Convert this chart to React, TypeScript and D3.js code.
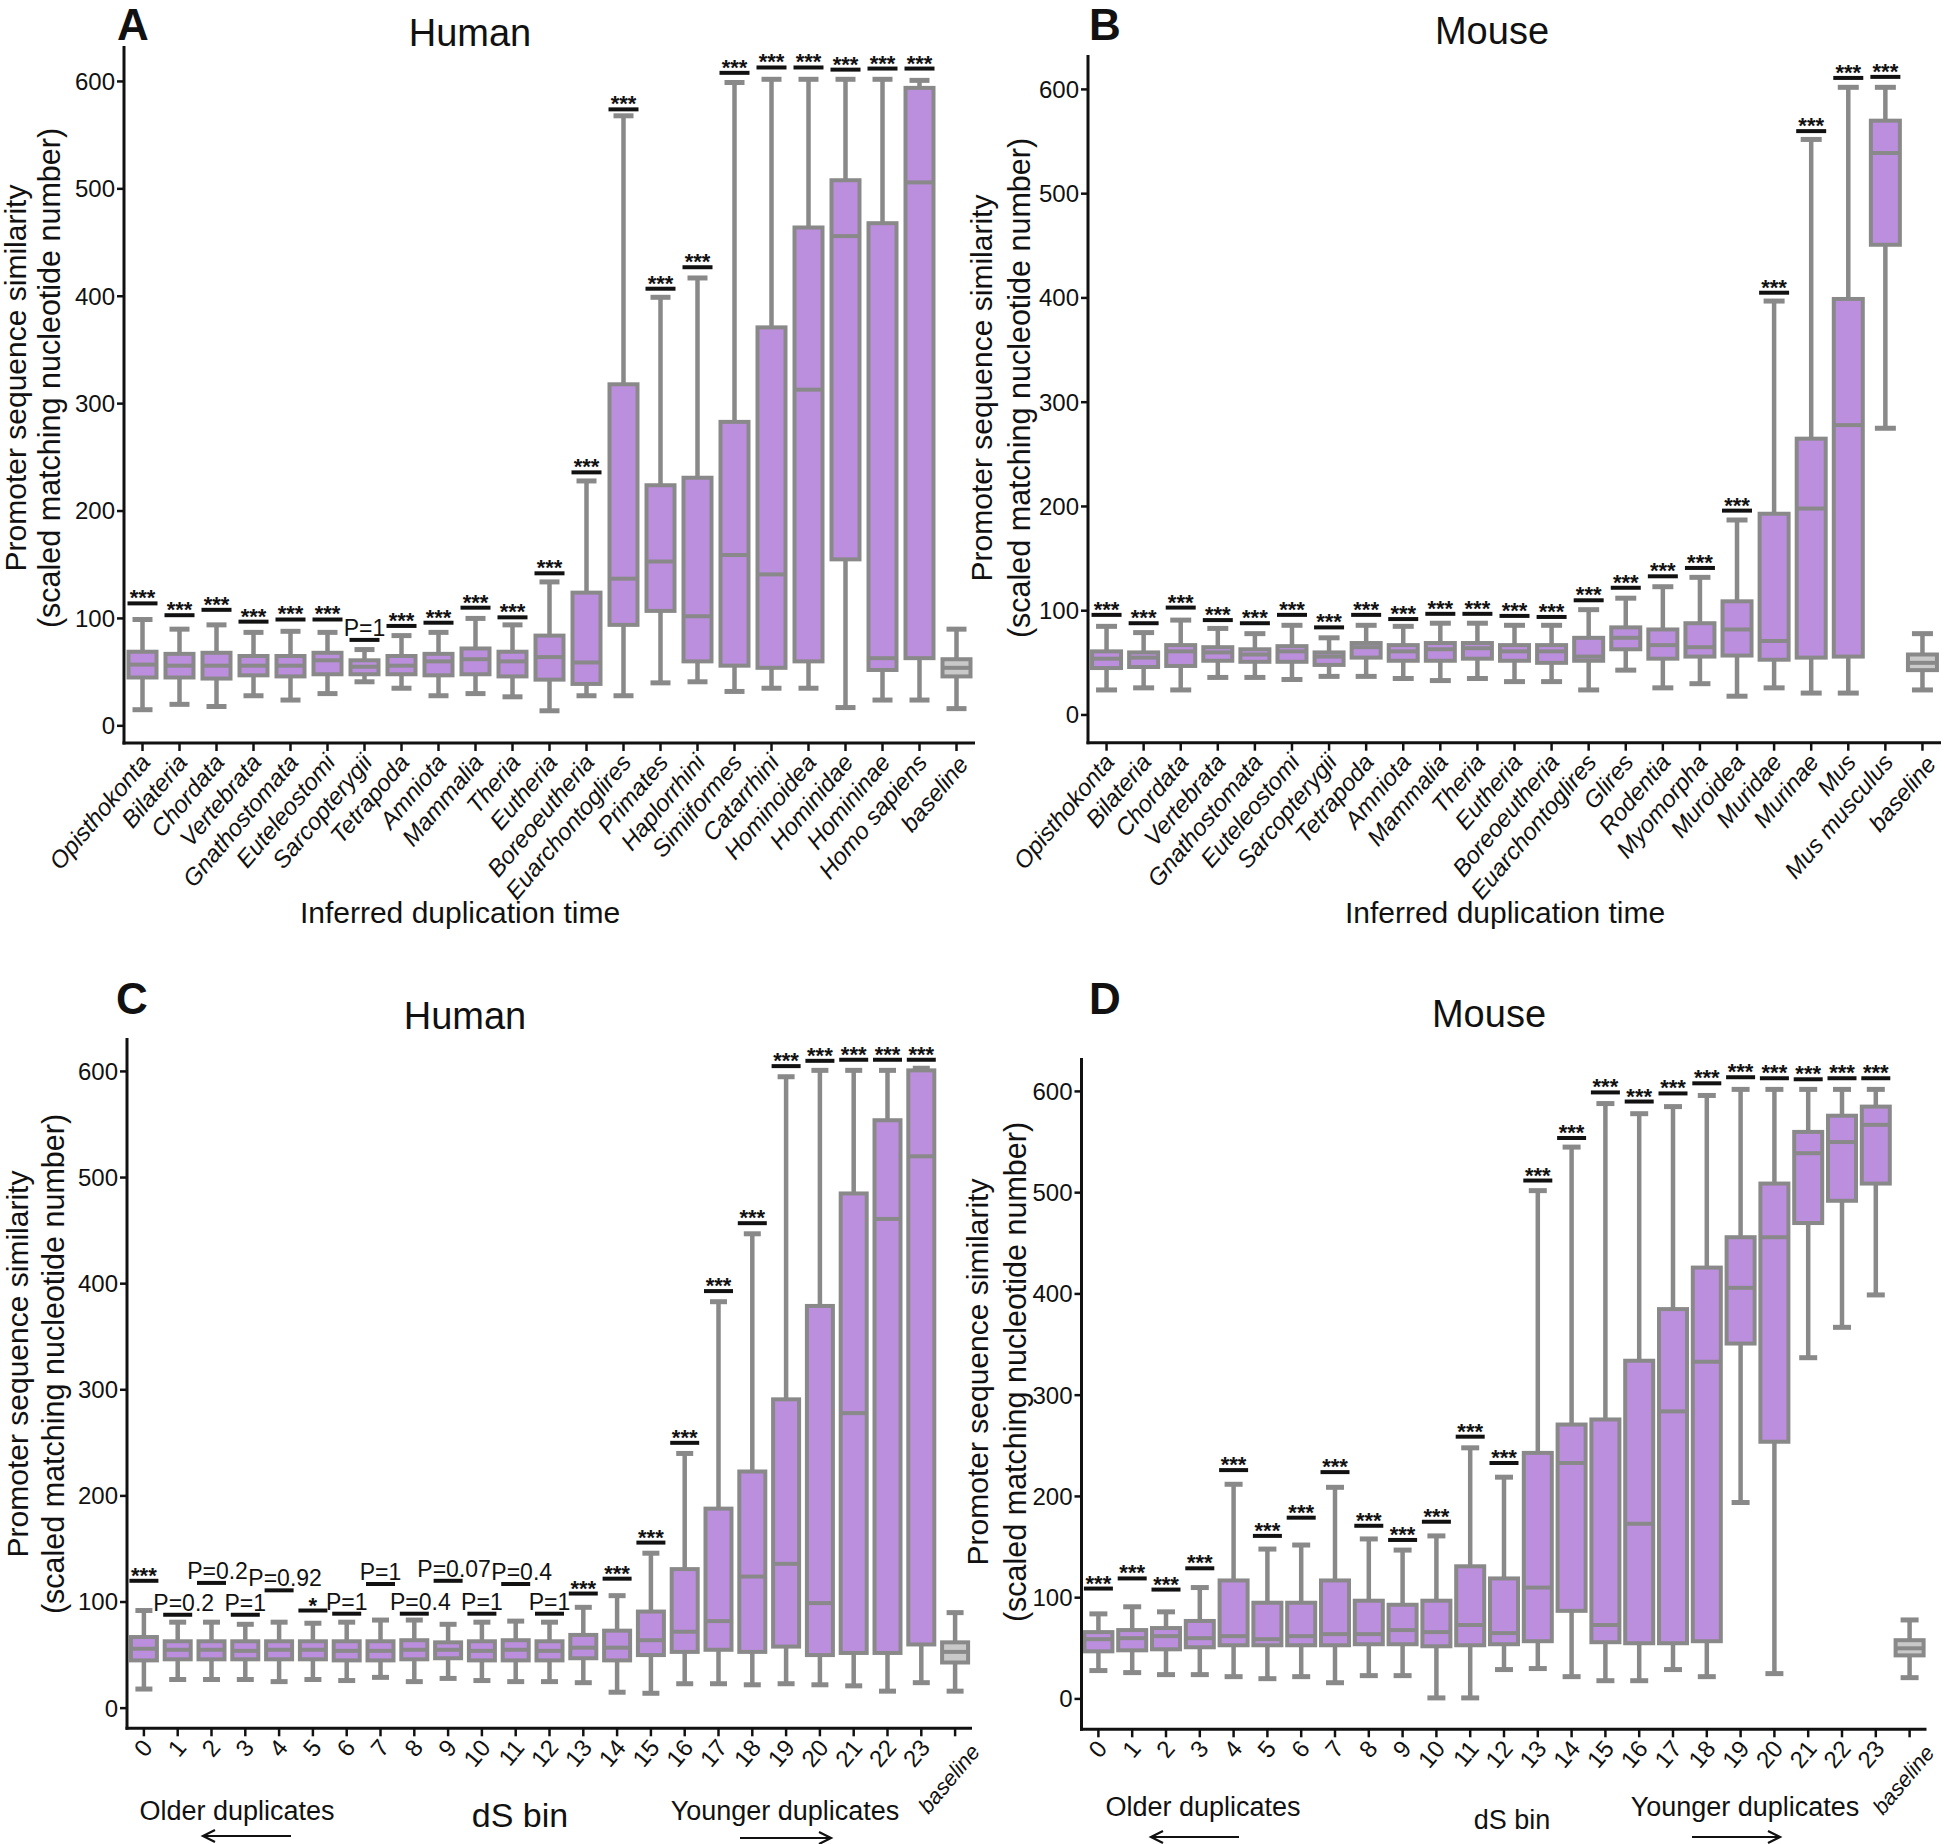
import React from 'react';
import * as d3 from 'd3';

// ---------- Panel A: Human, inferred duplication time ----------
const humanTaxa = ['Opisthokonta', 'Bilateria', 'Chordata', 'Vertebrata', 'Gnathostomata', 'Euteleostomi', 'Sarcopterygii', 'Tetrapoda', 'Amniota', 'Mammalia', 'Theria', 'Eutheria', 'Boreoeutheria', 'Euarchontoglires', 'Primates', 'Haplorrhini', 'Simiiformes', 'Catarrhini', 'Hominoidea', 'Hominidae', 'Homininae', 'Homo sapiens', 'baseline'];
const humanTaxaLower = [15, 20, 18, 28, 24, 30, 41, 35, 28, 30, 27, 14, 28, 28, 40, 41, 32, 35, 35, 17, 24, 24, 16];
const humanTaxaQ1 = [45, 45, 44, 47, 46, 48, 48, 48, 47, 48, 46, 43, 39, 94, 107, 60, 56, 54, 60, 155, 52, 63, 46];
const humanTaxaMedian = [57, 56, 56, 56, 56, 61, 55, 56, 60, 62, 60, 64, 59, 137, 153, 102, 159, 141, 313, 456, 63, 506, 54];
const humanTaxaQ3 = [69, 67, 68, 65, 65, 68, 61, 65, 67, 72, 69, 84, 124, 318, 224, 231, 283, 371, 464, 508, 468, 594, 62];
const humanTaxaUpper = [99, 90, 94, 87, 88, 87, 71, 84, 87, 100, 94, 134, 228, 568, 399, 417, 599, 602, 602, 602, 602, 601, 90];
const humanTaxaSigAt = [114, 103, 108, 97, 99, 99, 80, 93, 96, 110, 101, 142, 236, 574, 407, 427, 608, 613, 613, 611, 612, 612, null];
const humanTaxaSigText = ['***', '***', '***', '***', '***', '***', 'P=1', '***', '***', '***', '***', '***', '***', '***', '***', '***', '***', '***', '***', '***', '***', '***', ''];

// ---------- Panel B: Mouse, inferred duplication time ----------
const mouseTaxa = ['Opisthokonta', 'Bilateria', 'Chordata', 'Vertebrata', 'Gnathostomata', 'Euteleostomi', 'Sarcopterygii', 'Tetrapoda', 'Amniota', 'Mammalia', 'Theria', 'Eutheria', 'Boreoeutheria', 'Euarchontoglires', 'Glires', 'Rodentia', 'Myomorpha', 'Muroidea', 'Muridae', 'Murinae', 'Mus', 'Mus musculus', 'baseline'];
const mouseTaxaLower = [24, 26, 24, 36, 36, 34, 37, 37, 35, 33, 35, 32, 32, 24, 43, 26, 30, 18, 26, 21, 21, 275, 24];
const mouseTaxaQ1 = [45, 46, 47, 52, 51, 51, 48, 55, 52, 52, 54, 52, 50, 52, 63, 54, 56, 57, 53, 55, 56, 451, 43];
const mouseTaxaMedian = [54, 55, 61, 60, 58, 61, 56, 65, 61, 63, 64, 61, 61, 56, 74, 67, 65, 82, 71, 198, 278, 539, 50];
const mouseTaxaQ3 = [61, 60, 67, 65, 63, 66, 60, 69, 67, 69, 69, 67, 67, 74, 84, 82, 88, 109, 193, 265, 399, 570, 58];
const mouseTaxaUpper = [85, 79, 91, 83, 78, 86, 74, 86, 85, 88, 88, 86, 86, 101, 112, 123, 132, 187, 397, 552, 602, 602, 78];
const mouseTaxaSigAt = [96, 88, 103, 91, 88, 96, 84, 96, 92, 97, 97, 95, 94, 110, 122, 133, 141, 196, 405, 560, 611, 612, null];
const mouseTaxaSigText = ['***', '***', '***', '***', '***', '***', '***', '***', '***', '***', '***', '***', '***', '***', '***', '***', '***', '***', '***', '***', '***', '***', ''];

// ---------- Panel C: Human, dS bins ----------
const humanBins = ['0', '1', '2', '3', '4', '5', '6', '7', '8', '9', '10', '11', '12', '13', '14', '15', '16', '17', '18', '19', '20', '21', '22', '23', 'baseline'];
const humanBinsLower = [18, 27, 27, 27, 25, 27, 26, 29, 25, 28, 26, 25, 25, 24, 15, 14, 23, 23, 22, 23, 22, 21, 16, 24, 16];
const humanBinsQ1 = [45, 46, 46, 46, 46, 46, 45, 45, 46, 47, 45, 45, 45, 47, 45, 50, 53, 55, 53, 58, 50, 52, 52, 60, 43];
const humanBinsMedian = [56, 55, 55, 54, 55, 55, 54, 54, 55, 55, 54, 55, 54, 57, 57, 64, 72, 82, 124, 136, 99, 278, 461, 520, 53];
const humanBinsQ3 = [67, 63, 63, 63, 63, 63, 63, 63, 64, 62, 63, 64, 63, 69, 73, 91, 131, 188, 223, 291, 379, 485, 554, 601, 62];
const humanBinsUpper = [92, 81, 81, 79, 81, 80, 81, 83, 83, 79, 81, 82, 81, 95, 106, 146, 240, 383, 447, 595, 601, 601, 601, 603, 90];
const humanBinsSigAt = [120, 88, 118, 88, 111, 92, 89, 117, 89, 120, 89, 117, 89, 108, 122, 156, 250, 393, 457, 605, 610, 611, 611, 611, null];
const humanBinsSigText = ['***', 'P=0.2', 'P=0.2', 'P=1', 'P=0.92', '*', 'P=1', 'P=1', 'P=0.4', 'P=0.07', 'P=1', 'P=0.4', 'P=1', '***', '***', '***', '***', '***', '***', '***', '***', '***', '***', '***', ''];

// ---------- Panel D: Mouse, dS bins ----------
const mouseBins = ['0', '1', '2', '3', '4', '5', '6', '7', '8', '9', '10', '11', '12', '13', '14', '15', '16', '17', '18', '19', '20', '21', '22', '23', 'baseline'];
const mouseBinsLower = [28, 26, 24, 24, 22, 20, 22, 16, 23, 23, 1, 1, 29, 30, 22, 18, 18, 29, 22, 194, 25, 337, 367, 399, 21];
const mouseBinsQ1 = [47, 48, 49, 51, 53, 53, 53, 53, 54, 54, 52, 53, 54, 57, 87, 56, 55, 55, 57, 351, 254, 470, 492, 509, 43];
const mouseBinsMedian = [59, 60, 62, 60, 62, 59, 62, 64, 64, 68, 66, 73, 65, 110, 233, 73, 173, 284, 333, 406, 456, 539, 550, 567, 50];
const mouseBinsQ3 = [66, 68, 70, 77, 117, 95, 95, 117, 97, 93, 97, 131, 119, 243, 271, 276, 334, 385, 426, 456, 509, 560, 576, 585, 58];
const mouseBinsUpper = [84, 91, 86, 110, 212, 148, 152, 209, 158, 147, 161, 248, 219, 502, 545, 588, 578, 585, 596, 602, 602, 602, 602, 602, 78];
const mouseBinsSigAt = [109, 119, 108, 129, 226, 161, 179, 224, 171, 157, 175, 259, 233, 512, 554, 599, 590, 598, 608, 614, 613, 612, 613, 613, null];
const mouseBinsSigText = ['***', '***', '***', '***', '***', '***', '***', '***', '***', '***', '***', '***', '***', '***', '***', '***', '***', '***', '***', '***', '***', '***', '***', '***', ''];

const yTickValues = [0, 100, 200, 300, 400, 500, 600];

const FONT = 'Liberation Sans, Arial, Helvetica, sans-serif';
const GRAY = '#898989';
const PURPLE = '#bb8fdd';
const BASE_FILL = '#c9c9c9';
const INK = '#111111';

type Panel = {
  cats: string[]; lower: number[]; q1: number[]; median: number[]; q3: number[]; upper: number[];
  sigAt: (number | null)[]; sigText: string[];
  x0: number; x1: number; yTop: number; yBottom: number; yMin: number; yMax: number;
  boxW: number; capW: number; barW: number;
  letter: string; letterX: number; letterY: number;
  title: string; titleX: number; titleY: number;
  yl1X: number; yl2X: number; ylY: number;
  tickFont: number; tickItalicAll: boolean; tickDx: number; tickDy: number; baseDx: number; baseDy: number;
};

const panels: Panel[] = [
  {
    cats: humanTaxa, lower: humanTaxaLower, q1: humanTaxaQ1, median: humanTaxaMedian, q3: humanTaxaQ3, upper: humanTaxaUpper,
    sigAt: humanTaxaSigAt, sigText: humanTaxaSigText,
    x0: 124, x1: 975, yTop: 46, yBottom: 743, yMin: -16, yMax: 633,
    boxW: 28, capW: 20, barW: 30,
    letter: 'A', letterX: 117, letterY: 40, title: 'Human', titleX: 470, titleY: 46,
    yl1X: 26, yl2X: 60, ylY: 378, tickFont: 24, tickItalicAll: true, tickDx: 9, tickDy: 20, baseDx: 4, baseDy: 2,
  },
  {
    cats: mouseTaxa, lower: mouseTaxaLower, q1: mouseTaxaQ1, median: mouseTaxaMedian, q3: mouseTaxaQ3, upper: mouseTaxaUpper,
    sigAt: mouseTaxaSigAt, sigText: mouseTaxaSigText,
    x0: 1088, x1: 1941, yTop: 55, yBottom: 742.7, yMin: -26.6, yMax: 633,
    boxW: 29, capW: 21, barW: 30,
    letter: 'B', letterX: 1089, letterY: 40, title: 'Mouse', titleX: 1492, titleY: 44,
    yl1X: 992, yl2X: 1030, ylY: 388, tickFont: 24, tickItalicAll: true, tickDx: 9, tickDy: 20, baseDx: 6, baseDy: 2,
  },
  {
    cats: humanBins, lower: humanBinsLower, q1: humanBinsQ1, median: humanBinsMedian, q3: humanBinsQ3, upper: humanBinsUpper,
    sigAt: humanBinsSigAt, sigText: humanBinsSigText,
    x0: 127, x1: 972, yTop: 1038, yBottom: 1728.3, yMin: -19, yMax: 631.5,
    boxW: 26, capW: 17, barW: 29,
    letter: 'C', letterX: 116, letterY: 1014, title: 'Human', titleX: 465, titleY: 1029,
    yl1X: 28, yl2X: 64, ylY: 1364, tickFont: 24, tickItalicAll: false, tickDx: 10, tickDy: 20, baseDx: 16, baseDy: 4,
  },
  {
    cats: mouseBins, lower: mouseBinsLower, q1: mouseBinsQ1, median: mouseBinsMedian, q3: mouseBinsQ3, upper: mouseBinsUpper,
    sigAt: mouseBinsSigAt, sigText: mouseBinsSigText,
    x0: 1081.5, x1: 1926.5, yTop: 1058, yBottom: 1729.3, yMin: -30, yMax: 633,
    boxW: 28, capW: 18, barW: 29,
    letter: 'D', letterX: 1089, letterY: 1014, title: 'Mouse', titleX: 1489, titleY: 1027,
    yl1X: 988, yl2X: 1026, ylY: 1372, tickFont: 24, tickItalicAll: false, tickDx: 10, tickDy: 20, baseDx: 16, baseDy: 4,
  },
];

function BoxPanel({ p }: { p: Panel }) {
  const x = d3.scaleBand<string>().domain(p.cats).range([p.x0, p.x1]).paddingInner(0).paddingOuter(0);
  const y = d3.scaleLinear().domain([p.yMin, p.yMax]).range([p.yBottom, p.yTop]);
  const half = x.bandwidth() / 2;
  return (
    <g>
      {/* panel letter and title */}
      <text x={p.letterX} y={p.letterY} fontFamily={FONT} fontWeight={900} fontSize={44} fill={INK}>{p.letter}</text>
      <text x={p.titleX} y={p.titleY} textAnchor="middle" fontFamily={FONT} fontSize={38} fill={INK}>{p.title}</text>

      {/* y label */}
      <text transform={`translate(${p.yl1X},${p.ylY}) rotate(-90)`} textAnchor="middle" fontFamily={FONT} fontSize={30} fill={INK}>Promoter sequence similarity</text>
      <text transform={`translate(${p.yl2X},${p.ylY}) rotate(-90)`} textAnchor="middle" fontFamily={FONT} fontSize={30.5} fill={INK}>(scaled matching nucleotide number)</text>

      {/* y ticks */}
      {yTickValues.map((v) => (
        <g key={`yt${v}`}>
          <line x1={p.x0 - 7} x2={p.x0} y1={y(v)} y2={y(v)} stroke={INK} strokeWidth={2.5} />
          <text x={p.x0 - 9} y={y(v)} dy="0.35em" textAnchor="end" fontFamily={FONT} fontSize={24} fill={INK}>{v}</text>
        </g>
      ))}

      {/* boxes */}
      {p.cats.map((c, i) => {
        const cx = (x(c) as number) + half;
        const isBase = c === 'baseline';
        return (
          <g key={`b${c}`}>
            <line x1={cx} x2={cx} y1={y(p.upper[i])} y2={y(p.q3[i])} stroke={GRAY} strokeWidth={4.5} />
            <line x1={cx} x2={cx} y1={y(p.q1[i])} y2={y(p.lower[i])} stroke={GRAY} strokeWidth={4.5} />
            <line x1={cx - p.capW / 2} x2={cx + p.capW / 2} y1={y(p.upper[i])} y2={y(p.upper[i])} stroke={GRAY} strokeWidth={5} />
            <line x1={cx - p.capW / 2} x2={cx + p.capW / 2} y1={y(p.lower[i])} y2={y(p.lower[i])} stroke={GRAY} strokeWidth={5} />
            <rect x={cx - p.boxW / 2} width={p.boxW} y={y(p.q3[i])} height={y(p.q1[i]) - y(p.q3[i])}
              fill={isBase ? BASE_FILL : PURPLE} stroke={GRAY} strokeWidth={4} />
            <line x1={cx - p.boxW / 2} x2={cx + p.boxW / 2} y1={y(p.median[i])} y2={y(p.median[i])} stroke={GRAY} strokeWidth={4} />
          </g>
        );
      })}

      {/* significance bars */}
      {p.cats.map((c, i) => {
        const s = p.sigAt[i];
        if (s === null) return null;
        const cx = (x(c) as number) + half;
        const stars = /^\*+$/.test(p.sigText[i]);
        return (
          <g key={`s${c}`}>
            <line x1={cx - p.barW / 2} x2={cx + p.barW / 2} y1={y(s)} y2={y(s)} stroke={INK} strokeWidth={4} />
            {stars ? (
              <text x={cx} y={y(s) + 2} textAnchor="middle" fontFamily={FONT} fontWeight={700} fontSize={22} fill={INK}>{p.sigText[i]}</text>
            ) : (
              <text x={cx + (p.sigText[i].length > 3 ? 6 : 0)} y={y(s) - 4} textAnchor="middle" fontFamily={FONT} fontSize={23} fill={INK}>{p.sigText[i]}</text>
            )}
          </g>
        );
      })}

      {/* axes */}
      <line x1={p.x0} x2={p.x0} y1={p.yTop} y2={p.yBottom + 1.5} stroke={INK} strokeWidth={3} />
      <line x1={p.x0 - 1.5} x2={p.x1} y1={p.yBottom} y2={p.yBottom} stroke={INK} strokeWidth={3} />

      {/* x ticks */}
      {p.cats.map((c) => {
        const cx = (x(c) as number) + half;
        const isBase = c === 'baseline';
        const italic = p.tickItalicAll || isBase;
        const tx = cx + p.tickDx + (isBase ? p.baseDx : 0);
        const ty = p.yBottom + p.tickDy + (isBase ? p.baseDy : 0);
        return (
          <g key={`xt${c}`}>
            <line x1={cx} x2={cx} y1={p.yBottom} y2={p.yBottom + 8} stroke={INK} strokeWidth={2.5} />
            <text transform={`translate(${tx},${ty}) rotate(-50)`} textAnchor="end"
              fontFamily={FONT} fontStyle={italic ? 'italic' : 'normal'} fontSize={isBase && !p.tickItalicAll ? 22 : p.tickFont} fill={INK}>{c}</text>
          </g>
        );
      })}
    </g>
  );
}

function Arrow({ x1, x2, y }: { x1: number; x2: number; y: number }) {
  const dir = x2 > x1 ? 1 : -1;
  return (
    <g stroke={INK} strokeWidth={2.2} fill="none">
      <line x1={x1} x2={x2} y1={y} y2={y} />
      <path d={`M${x2 - dir * 12},${y - 6} L${x2},${y} L${x2 - dir * 12},${y + 6}`} />
    </g>
  );
}

export default function App() {
  return (
    <svg width={1945} height={1844} viewBox="0 0 1945 1844"
      style={{ position: 'absolute', left: 0, top: 0, background: '#ffffff', display: 'block' }}>
      <rect x={0} y={0} width={1945} height={1844} fill="#ffffff" />
      {panels.map((p) => <BoxPanel key={p.letter} p={p} />)}

      <text x={460} y={923} textAnchor="middle" fontFamily={FONT} fontSize={30} fill={INK}>Inferred duplication time</text>
      <text x={1505} y={923} textAnchor="middle" fontFamily={FONT} fontSize={30} fill={INK}>Inferred duplication time</text>

      <text x={237} y={1820} textAnchor="middle" fontFamily={FONT} fontSize={27} fill={INK}>Older duplicates</text>
      <text x={520} y={1827} textAnchor="middle" fontFamily={FONT} fontSize={34} fill={INK}>dS bin</text>
      <text x={785} y={1820} textAnchor="middle" fontFamily={FONT} fontSize={27} fill={INK}>Younger duplicates</text>
      <Arrow x1={291} x2={203} y={1836} />
      <Arrow x1={740} x2={831} y={1838} />

      <text x={1203} y={1816} textAnchor="middle" fontFamily={FONT} fontSize={27} fill={INK}>Older duplicates</text>
      <text x={1512} y={1829} textAnchor="middle" fontFamily={FONT} fontSize={27} fill={INK}>dS bin</text>
      <text x={1745} y={1816} textAnchor="middle" fontFamily={FONT} fontSize={27} fill={INK}>Younger duplicates</text>
      <Arrow x1={1239} x2={1151} y={1837} />
      <Arrow x1={1692} x2={1780} y={1837} />
    </svg>
  );
}
